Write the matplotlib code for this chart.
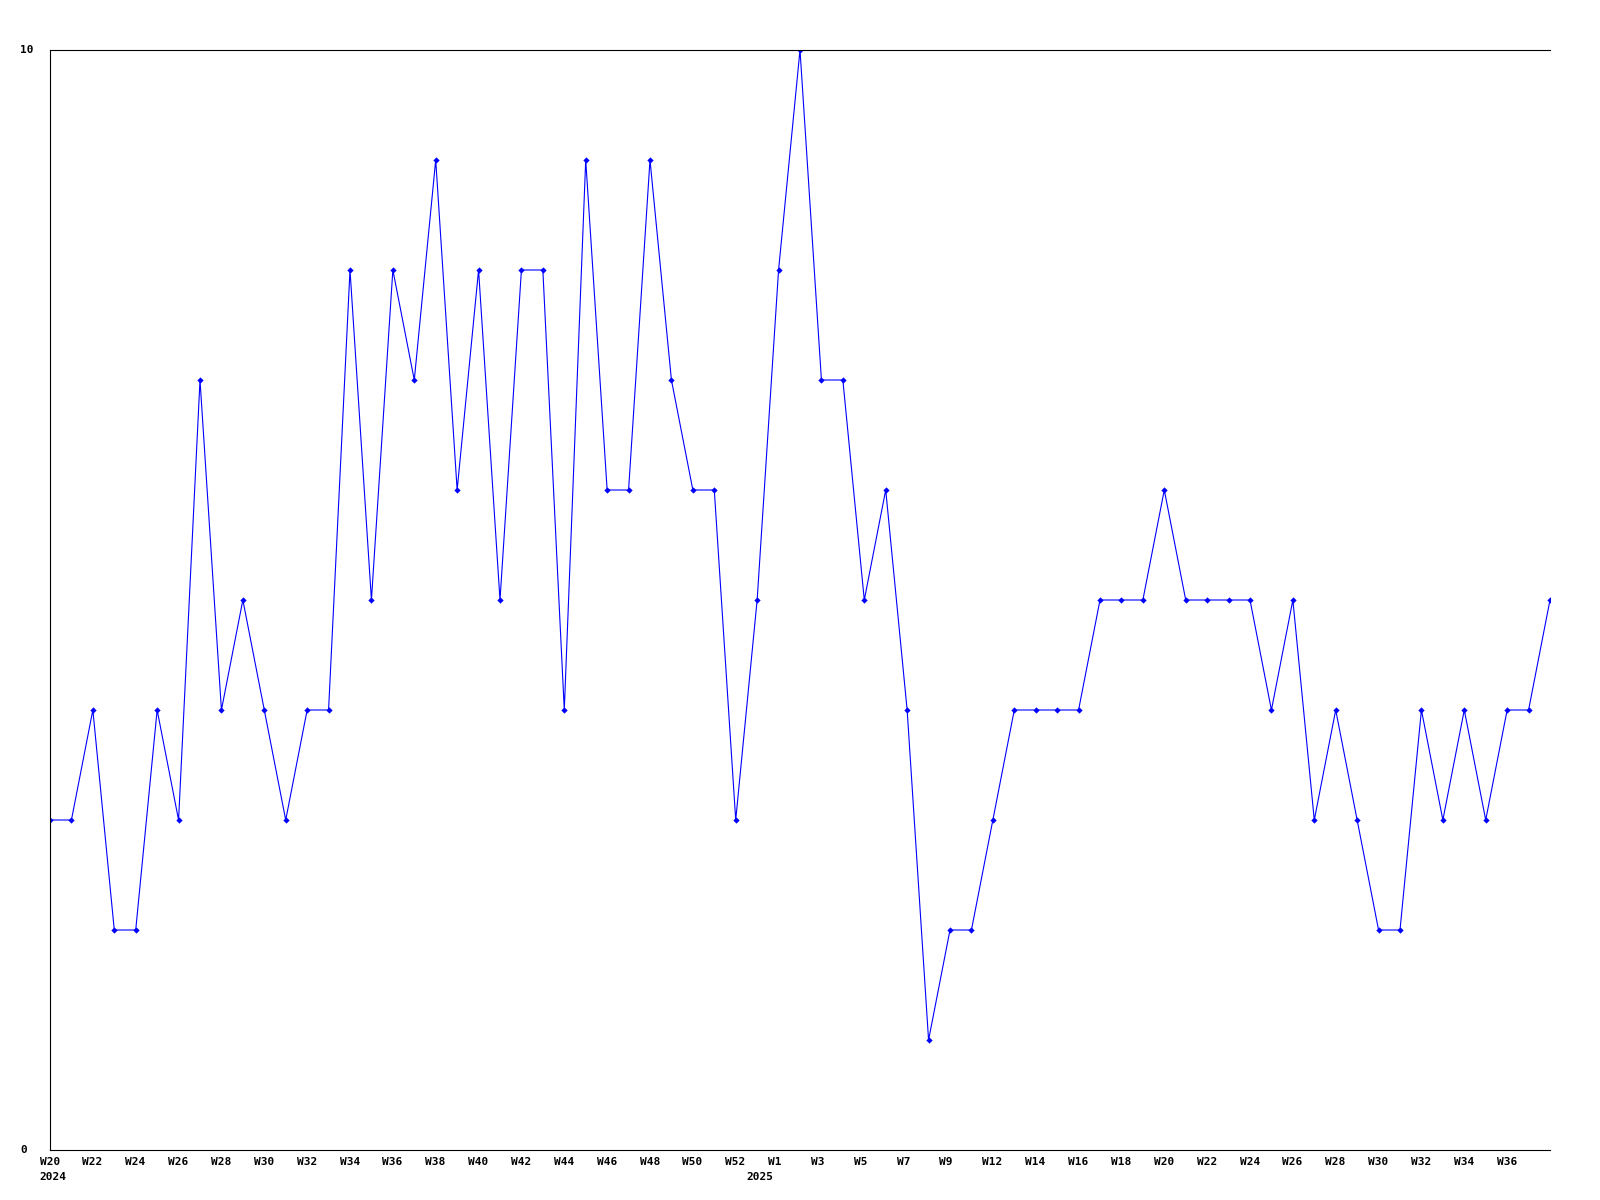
import matplotlib
matplotlib.use("Agg")
import matplotlib.pyplot as plt

# weekly counts, W20 2024 .. W38 2025
values = [3, 3, 4, 2, 2, 4, 3, 7, 4, 5, 4, 3, 4, 4, 8, 5, 8, 7, 9, 6,
          8, 5, 8, 8, 4, 9, 6, 6, 9, 7, 6, 6, 3, 5, 8, 10, 7, 7, 5, 6,
          4, 1, 2, 2, 3, 4, 4, 4, 4, 5, 5, 5, 6, 5, 5, 5, 5, 4, 5, 3,
          4, 3, 2, 2, 4, 3, 4, 3, 4, 4, 5]

week_labels = ['W20', 'W22', 'W24', 'W26', 'W28', 'W30', 'W32', 'W34', 'W36',
               'W38', 'W40', 'W42', 'W44', 'W46', 'W48', 'W50', 'W52',
               'W1', 'W3', 'W5', 'W7', 'W9', 'W12', 'W14', 'W16', 'W18',
               'W20', 'W22', 'W24', 'W26', 'W28', 'W30', 'W32', 'W34', 'W36']
week_pos = list(range(0, 2 * len(week_labels), 2))

year_labels = ['2024', '2025']
year_pos = [0, 33]

font = dict(family='DejaVu Sans Mono', fontweight='bold', fontsize=8)

fig = plt.figure(figsize=(16, 12), dpi=100)
ax = fig.add_axes([50 / 1600, 50 / 1200, 1500 / 1600, 1100 / 1200])

x = list(range(len(values)))
ax.plot(x, values, color='#0000ff', linewidth=0.8, marker='D', markersize=3.2,
        markerfacecolor='#0000ff', markeredgewidth=0)

ax.set_xlim(0, len(values) - 1)
ax.set_ylim(0, 10)
ax.set_xticks([])
ax.set_yticks([])
for side in ['left', 'top', 'bottom']:
    ax.spines[side].set_linewidth(0.8)
    ax.spines[side].set_color('black')
ax.spines['right'].set_visible(False)

# week labels, left aligned slightly before their tick
for pos, lab in zip(week_pos, week_labels):
    ax.annotate(lab, xy=(pos, 0), xycoords=('data', 'axes fraction'),
                xytext=(-10.5, -12), textcoords='offset pixels',
                ha='left', va='center', **font)
for pos, lab in zip(year_pos, year_labels):
    ax.annotate(lab, xy=(pos, 0), xycoords=('data', 'axes fraction'),
                xytext=(-10.5, -27), textcoords='offset pixels',
                ha='left', va='center', **font)

# y labels only at min and max
fig.text(20 / 1600, 1 - 50 / 1200, '10', ha='left', va='center', **font)
fig.text(20 / 1600, 1 - 1150 / 1200, '0', ha='left', va='center', **font)

fig.savefig('out.png', dpi=100)
